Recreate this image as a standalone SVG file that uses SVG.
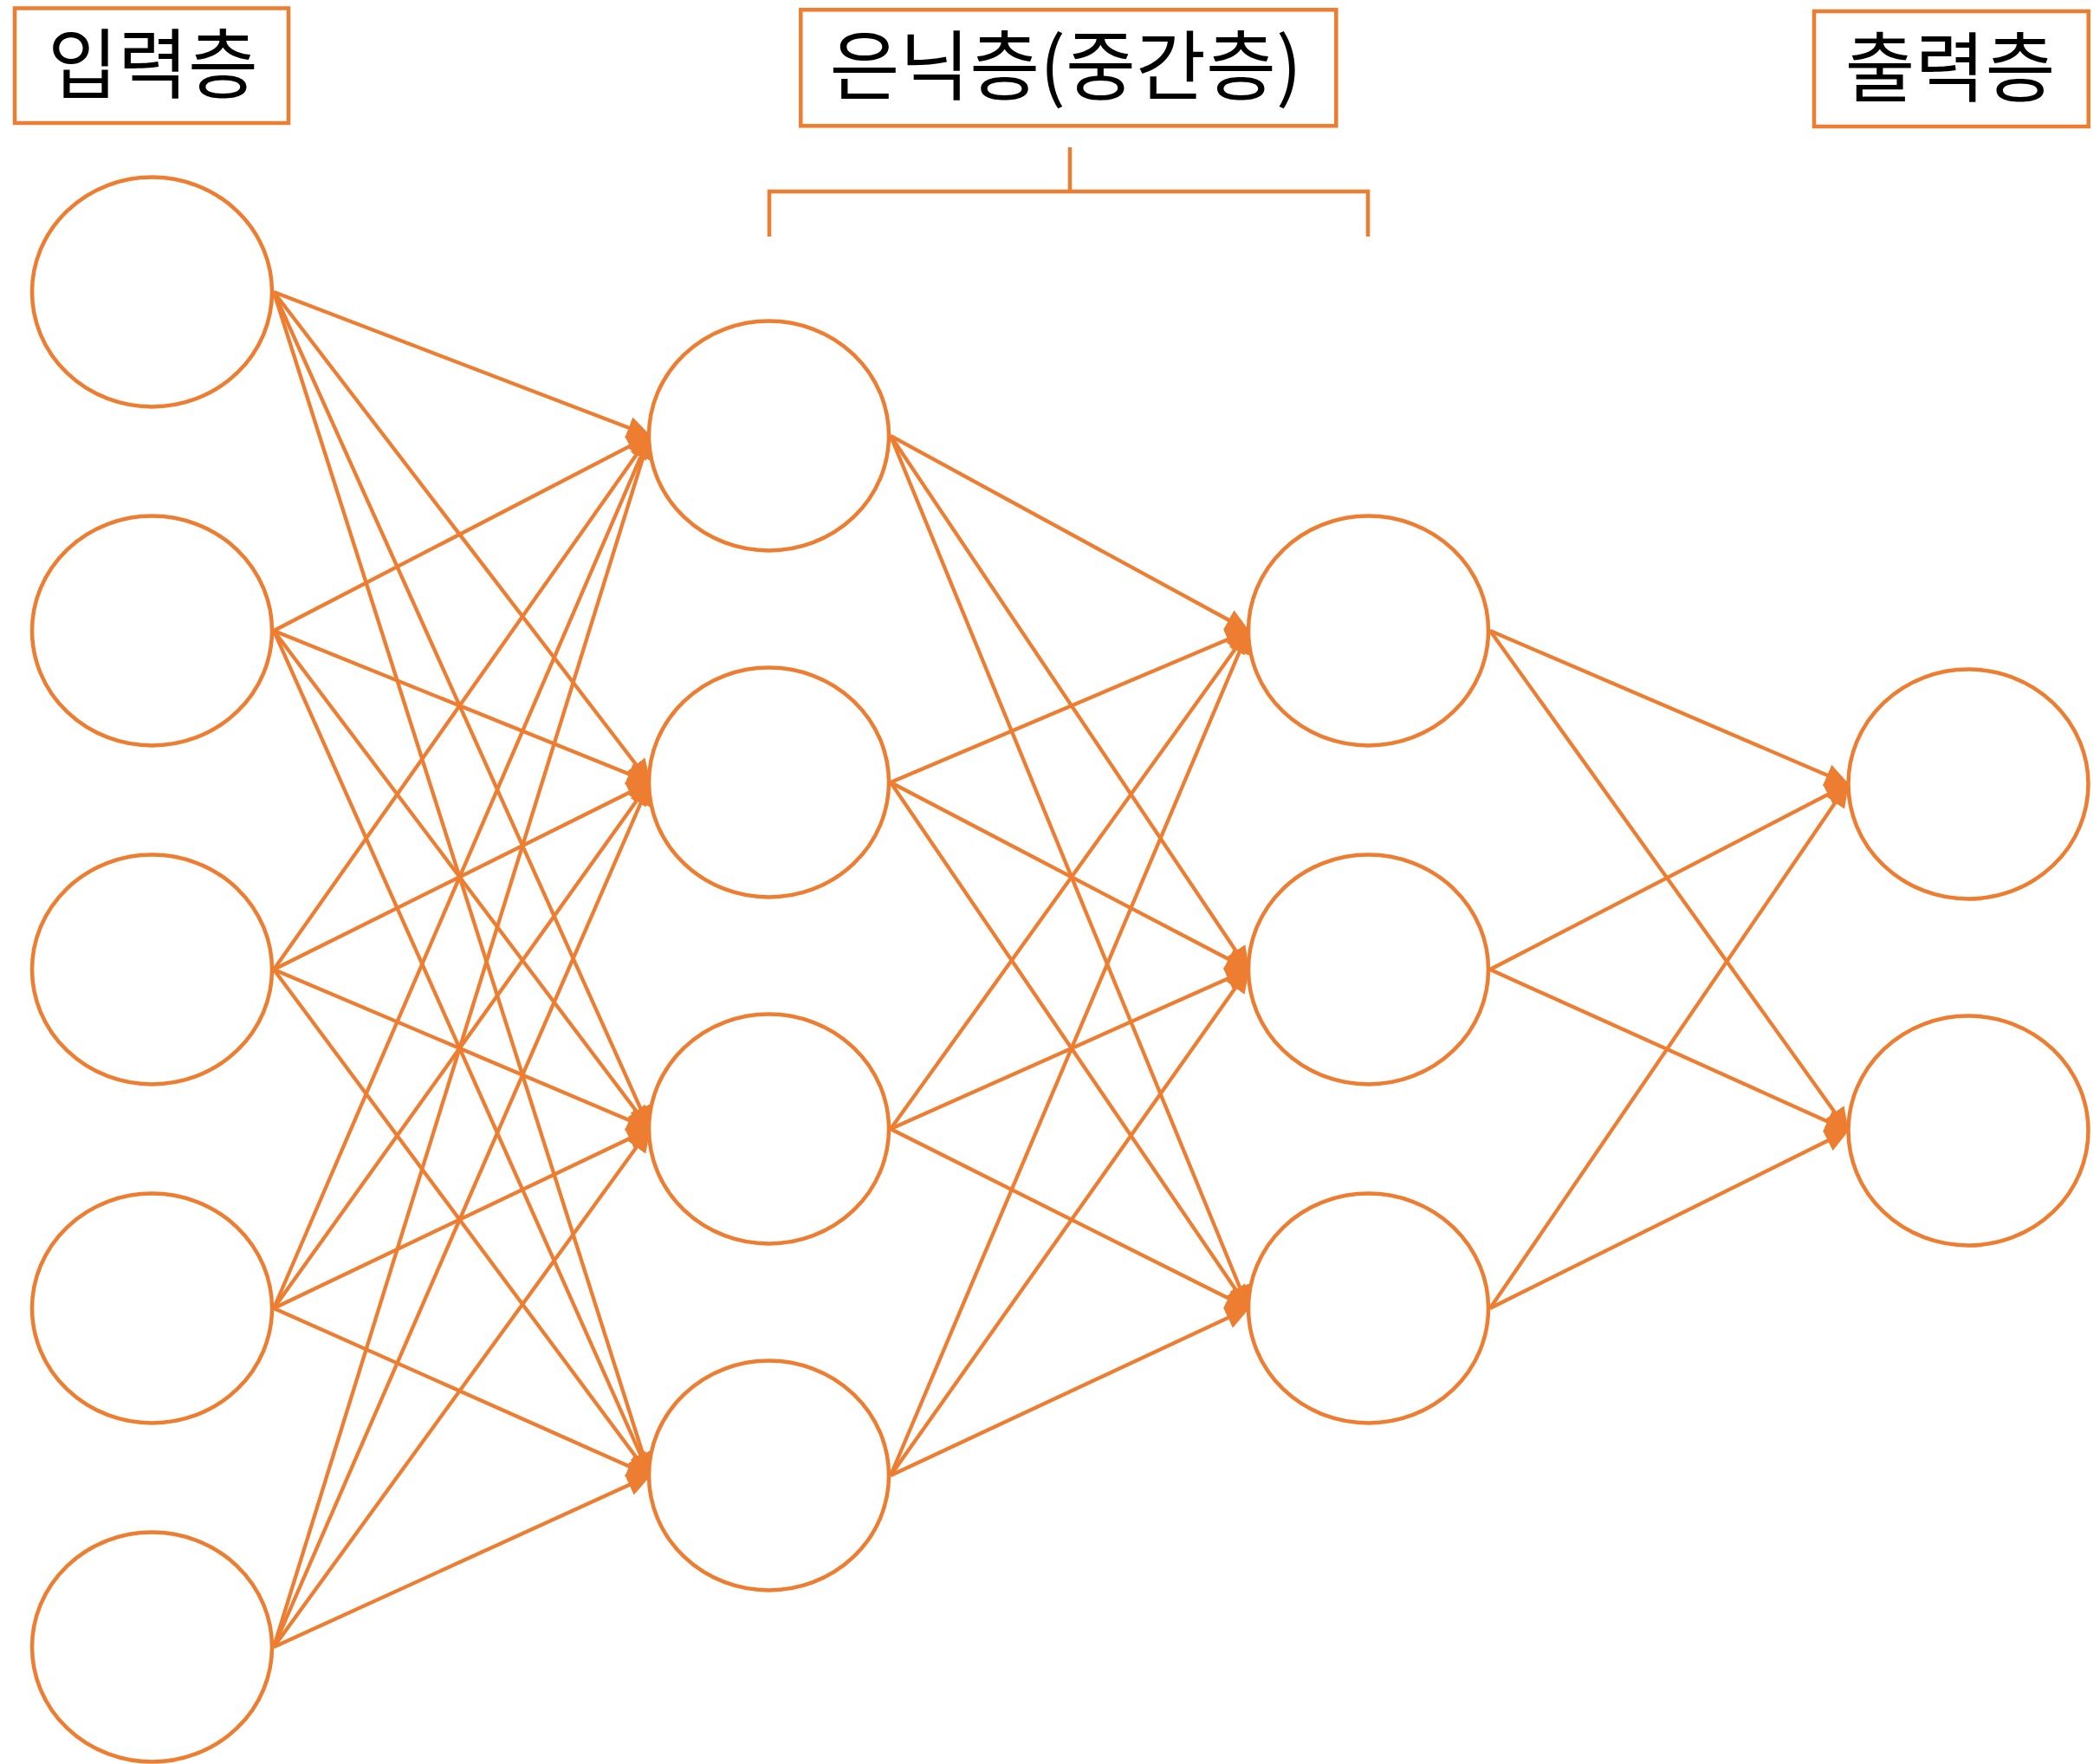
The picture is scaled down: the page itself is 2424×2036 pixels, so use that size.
<svg xmlns="http://www.w3.org/2000/svg" width="2424" height="2036" viewBox="0 0 2424 2036">
<style>
.node{fill:#fff;stroke:#ED7D31;stroke-width:4.5}
.edge{stroke:#ED7D31;stroke-width:4.3;fill:none;marker-end:url(#arr)}
.box{fill:#fff;stroke:#ED7D31;stroke-width:4.5}
.lbl{font-family:"Noto Sans CJK KR","Noto Sans",sans-serif;font-size:88px;fill:#000;text-anchor:middle}
</style>
<defs>
<marker id="arr" markerUnits="userSpaceOnUse" markerWidth="28" markerHeight="28" refX="26" refY="13" orient="auto" viewBox="0 0 28 26">
<path d="M0,0 L28,13 L0,26 Z" fill="#ED7D31"/>
</marker>
</defs>
<rect width="2424" height="2036" fill="#fff"/>
<g id="labels">
<g id="label-input"><rect class="box" x="17" y="9.5" width="316" height="132.5"/><text class="lbl" x="176.5" y="106">입력층</text></g>
<g id="label-hidden"><rect class="box" x="924.3" y="11.3" width="618" height="134"/><text class="lbl" x="1230" y="108">은닉층(중간층)</text></g>
<g id="label-output"><rect class="box" x="2094" y="13" width="316.7" height="133"/><text class="lbl" x="2251" y="110">출력층</text></g>
<path id="bracket" d="M888,273 V221 H1579 V273 M1235,170 V221" fill="none" stroke="#ED7D31" stroke-width="4.5"/>
</g>
<g id="connectors">
<line class="edge" x1="316" y1="337" x2="750" y2="503"/>
<line class="edge" x1="316" y1="337" x2="750" y2="903"/>
<line class="edge" x1="316" y1="337" x2="750" y2="1303"/>
<line class="edge" x1="316" y1="337" x2="750" y2="1703"/>
<line class="edge" x1="316" y1="728" x2="750" y2="503"/>
<line class="edge" x1="316" y1="728" x2="750" y2="903"/>
<line class="edge" x1="316" y1="728" x2="750" y2="1303"/>
<line class="edge" x1="316" y1="728" x2="750" y2="1703"/>
<line class="edge" x1="316" y1="1119" x2="750" y2="503"/>
<line class="edge" x1="316" y1="1119" x2="750" y2="903"/>
<line class="edge" x1="316" y1="1119" x2="750" y2="1303"/>
<line class="edge" x1="316" y1="1119" x2="750" y2="1703"/>
<line class="edge" x1="316" y1="1510" x2="750" y2="503"/>
<line class="edge" x1="316" y1="1510" x2="750" y2="903"/>
<line class="edge" x1="316" y1="1510" x2="750" y2="1303"/>
<line class="edge" x1="316" y1="1510" x2="750" y2="1703"/>
<line class="edge" x1="316" y1="1901" x2="750" y2="503"/>
<line class="edge" x1="316" y1="1901" x2="750" y2="903"/>
<line class="edge" x1="316" y1="1901" x2="750" y2="1303"/>
<line class="edge" x1="316" y1="1901" x2="750" y2="1703"/>
<line class="edge" x1="1028" y1="503" x2="1441" y2="728"/>
<line class="edge" x1="1028" y1="503" x2="1441" y2="1119"/>
<line class="edge" x1="1028" y1="503" x2="1441" y2="1510"/>
<line class="edge" x1="1028" y1="903" x2="1441" y2="728"/>
<line class="edge" x1="1028" y1="903" x2="1441" y2="1119"/>
<line class="edge" x1="1028" y1="903" x2="1441" y2="1510"/>
<line class="edge" x1="1028" y1="1303" x2="1441" y2="728"/>
<line class="edge" x1="1028" y1="1303" x2="1441" y2="1119"/>
<line class="edge" x1="1028" y1="1303" x2="1441" y2="1510"/>
<line class="edge" x1="1028" y1="1703" x2="1441" y2="728"/>
<line class="edge" x1="1028" y1="1703" x2="1441" y2="1119"/>
<line class="edge" x1="1028" y1="1703" x2="1441" y2="1510"/>
<line class="edge" x1="1720" y1="728" x2="2133" y2="905"/>
<line class="edge" x1="1720" y1="728" x2="2133" y2="1305"/>
<line class="edge" x1="1720" y1="1119" x2="2133" y2="905"/>
<line class="edge" x1="1720" y1="1119" x2="2133" y2="1305"/>
<line class="edge" x1="1720" y1="1510" x2="2133" y2="905"/>
<line class="edge" x1="1720" y1="1510" x2="2133" y2="1305"/>
</g>
<g id="nodes">
<g id="in1"><ellipse class="node" cx="175.5" cy="337" rx="138.5" ry="132.5"/></g>
<g id="in2"><ellipse class="node" cx="175.5" cy="728" rx="138.5" ry="132.5"/></g>
<g id="in3"><ellipse class="node" cx="175.5" cy="1119" rx="138.5" ry="132.5"/></g>
<g id="in4"><ellipse class="node" cx="175.5" cy="1510" rx="138.5" ry="132.5"/></g>
<g id="in5"><ellipse class="node" cx="175.5" cy="1901" rx="138.5" ry="132.5"/></g>
<g id="h1a"><ellipse class="node" cx="887.5" cy="503" rx="138.5" ry="132.5"/></g>
<g id="h1b"><ellipse class="node" cx="887.5" cy="903" rx="138.5" ry="132.5"/></g>
<g id="h1c"><ellipse class="node" cx="887.5" cy="1303" rx="138.5" ry="132.5"/></g>
<g id="h1d"><ellipse class="node" cx="887.5" cy="1703" rx="138.5" ry="132.5"/></g>
<g id="h2a"><ellipse class="node" cx="1579.5" cy="728" rx="138.5" ry="132.5"/></g>
<g id="h2b"><ellipse class="node" cx="1579.5" cy="1119" rx="138.5" ry="132.5"/></g>
<g id="h2c"><ellipse class="node" cx="1579.5" cy="1510" rx="138.5" ry="132.5"/></g>
<g id="out1"><ellipse class="node" cx="2272" cy="905" rx="138.5" ry="132.5"/></g>
<g id="out2"><ellipse class="node" cx="2272" cy="1305" rx="138.5" ry="132.5"/></g>
</g>
</svg>
